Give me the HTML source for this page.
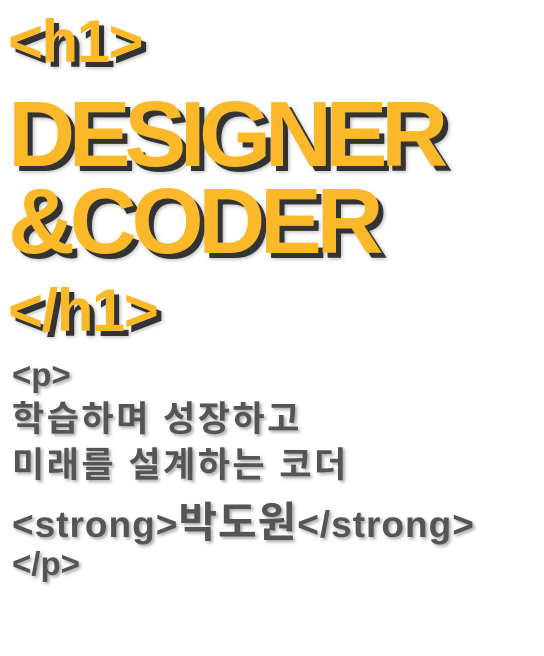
<!DOCTYPE html>
<html><head><meta charset="utf-8"><style>
html,body{margin:0;padding:0;background:#fff;width:544px;height:656px;overflow:hidden}
.y{position:absolute;left:8px;margin:0;color:#fbb829;font-family:"Liberation Sans",sans-serif;font-weight:bold;text-shadow:5px 5px 0 #333,6px 6px 4px rgba(0,0,0,.3);white-space:nowrap;line-height:1}
.g{position:absolute;left:12px;margin:0;color:#555;font-family:"Liberation Sans","Noto Sans CJK KR",sans-serif;font-weight:bold;text-shadow:2px 2px 3px rgba(0,0,0,.35);white-space:nowrap;line-height:1}
</style></head><body>
<div class="y" style="top:12px;font-size:60px;letter-spacing:-1.5px">&lt;h1&gt;</div>
<div class="y" style="top:88px;font-size:93px;letter-spacing:-6.5px">DESIGNER</div>
<div class="y" style="top:175px;font-size:93px;letter-spacing:-5.5px">&amp;CODER</div>
<div class="y" style="top:281px;font-size:60px;letter-spacing:-1.5px">&lt;/h1&gt;</div>
<div class="g" style="top:358px;font-size:33px">&lt;p&gt;</div>
<div class="g" style="top:402px;font-size:35px;letter-spacing:2.5px">학습하며 성장하고</div>
<div class="g" style="top:448px;font-size:35px;letter-spacing:2.5px">미래를 설계하는 코더</div>
<div class="g" style="top:502px;font-size:37px;letter-spacing:1px">&lt;strong&gt;<span style="font-size:42px">박도원</span>&lt;/strong&gt;</div>
<div class="g" style="top:547px;font-size:33px">&lt;/p&gt;</div>
</body></html>
